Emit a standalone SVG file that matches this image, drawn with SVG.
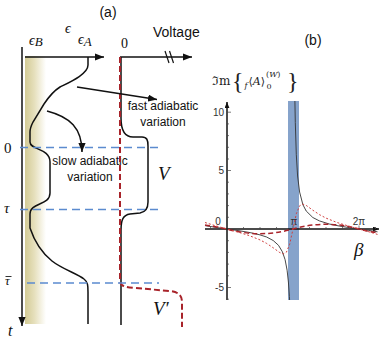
<svg xmlns="http://www.w3.org/2000/svg" width="382" height="341" viewBox="0 0 382 341">
<defs>
<style>
.sans{font-family:"Liberation Sans",Arial,sans-serif;fill:#111}
.ser{font-family:"Liberation Serif","DejaVu Serif",serif;fill:#111}
.it{font-style:italic}
.ax{stroke:#111;stroke-width:1.5;fill:none}
.blue{stroke:#5b8bcf;stroke-width:1.6;stroke-dasharray:8 5;fill:none}
.tick{stroke:#444;stroke-width:0.7}
.lab{font-family:"Liberation Sans",Arial,sans-serif;font-size:10px;fill:#333}
</style>
<marker id="ah" viewBox="0 0 10 8" refX="10" refY="4" markerWidth="9" markerHeight="7.2" markerUnits="userSpaceOnUse" orient="auto"><path d="M0,0 L10,4 L0,8 z" fill="#111"/></marker>
<marker id="ahs" viewBox="0 0 10 8" refX="10" refY="4" markerWidth="6" markerHeight="5" markerUnits="userSpaceOnUse" orient="auto"><path d="M0,0 L10,4 L0,8 z" fill="#111"/></marker>
<linearGradient id="band" x1="0" y1="0" x2="1" y2="0">
<stop offset="0" stop-color="#d3cb95"/><stop offset="0.45" stop-color="#e6e0bd"/><stop offset="1" stop-color="#ffffff"/>
</linearGradient>
</defs>
<rect width="382" height="341" fill="#fff"/>

<g id="panel-a">
<rect x="25" y="56" width="21" height="268" fill="url(#band)"/>
<text class="sans" x="108" y="17" font-size="14" text-anchor="middle">(a)</text>
<text class="ser it" x="65" y="33" font-size="14">ϵ</text>
<text class="ser it" x="29" y="45" font-size="14">ϵ<tspan font-size="13" dy="1">B</tspan></text>
<text class="ser it" x="78" y="44" font-size="14">ϵ<tspan font-size="13" dy="2">A</tspan></text>
<text class="ser" x="121" y="48" font-size="14">0</text>
<text class="sans" x="153" y="37" font-size="14">Voltage</text>
<text class="ser" x="4" y="153" font-size="15">0</text>
<text class="ser it" x="4" y="213" font-size="15">τ</text>
<text class="ser it" x="5" y="285" font-size="13">τ</text>
<line x1="5.5" y1="276.5" x2="11.5" y2="276.5" stroke="#333" stroke-width="1"/>
<text class="ser it" x="8" y="336" font-size="16">t</text>
<text class="ser it" x="158" y="180" font-size="19">V</text>
<text class="ser it" x="153" y="315" font-size="19">V′</text>
<text class="sans" x="163" y="110" font-size="12" text-anchor="middle">fast adiabatic</text>
<text class="sans" x="163" y="126" font-size="12" text-anchor="middle">variation</text>
<text class="sans" x="90" y="165" font-size="12" text-anchor="middle">slow adiabatic</text>
<text class="sans" x="90" y="181" font-size="12" text-anchor="middle">variation</text>

<g id="axes-a">
<line class="ax" x1="22" y1="47" x2="22" y2="326" marker-end="url(#ah)"/>
<line class="ax" x1="25" y1="57" x2="104" y2="57" marker-end="url(#ah)"/>
<line class="ax" x1="120" y1="57" x2="192" y2="57" marker-end="url(#ah)"/>
<line x1="165" y1="51" x2="169" y2="63" stroke="#111" stroke-width="1.2"/>
<line x1="169.5" y1="51" x2="173.5" y2="63" stroke="#111" stroke-width="1.2"/>
</g>

<g id="epsilon-curve">
<path d="M88,57 L88,65 C88,74 70,82 60,87 C52,92 48,98 44,104 L33,122 C31,126 30,128 30,132 L30,142 C30,150 50,148 50,162 L50,193 C50,206 30,202 30,214 L30,228 C34,240 42,253 52,261 C62,269 78,274 84,279 C88,282 88,286 88,292 L88,324" fill="none" stroke="#111" stroke-width="1.5"/>
</g>

<g id="voltage-curves">
<path d="M121,57 L121,118 C121,130 124,137 133,137 L142,137 C147,137 148,140 148,146 L148,202 C148,208 146,212 140,213 L130,214 C123,215 121,220 121,230 L121,325" fill="none" stroke="#111" stroke-width="1.5"/>
<path d="M120,57 L120,280 C120,286 124,287 135,288 L170,291 C178,292 182,295 182,302 L182,327" fill="none" stroke="#a8232a" stroke-width="2" stroke-dasharray="6 3"/>
</g>

<g id="time-lines">
<line class="blue" x1="20" y1="147.5" x2="161" y2="147.5"/>
<line class="blue" x1="20" y1="209.5" x2="161" y2="209.5"/>
<line class="blue" x1="27" y1="283" x2="159" y2="283"/>
</g>
</g>

<g id="connectors">
<line x1="77" y1="87" x2="157" y2="99.5" stroke="#111" stroke-width="1.5" marker-end="url(#ah)"/>
<path d="M47,111 C70,117 82,128 82,152" fill="none" stroke="#111" stroke-width="1.5" marker-end="url(#ah)"/>
</g>

<g id="panel-b">
<text class="sans" x="313" y="45" font-size="14" text-anchor="middle">(b)</text>
<g id="ylabel" font-family="'DejaVu Serif','Liberation Serif',serif" fill="#222">
<text x="212" y="85" font-size="12">ℑm</text>
<text x="232" y="89" font-size="24" font-family="'Liberation Serif',serif">{</text>
<text x="244.5" y="88" font-size="8" font-style="italic">f</text>
<text x="248.5" y="85" font-size="11">⟨<tspan font-style="italic">A</tspan>⟩</text>
<text x="266" y="77" font-size="8">(<tspan font-style="italic">W</tspan>)</text>
<text x="266.5" y="89" font-size="8">0</text>
<text x="287" y="89" font-size="24" font-family="'Liberation Serif',serif">}</text>
</g>
<rect x="288" y="101" width="11" height="199" fill="#86a3cb"/>
<g id="axes-b">
<line class="ax" x1="227" y1="300" x2="227" y2="102" stroke-width="1" marker-end="url(#ahs)"/>
<line class="ax" x1="205" y1="229" x2="379" y2="229" stroke-width="1" marker-end="url(#ahs)"/>
<path class="tick" d="M227,112.2h4 M227,170.5h4 M227,287.5h4 M227,123.9h2 M227,135.6h2 M227,147.3h2 M227,159h2 M227,182.2h2 M227,193.9h2 M227,205.6h2 M227,217.3h2 M227,240.7h2 M227,252.4h2 M227,264.1h2 M227,275.8h2 M227,299.2h2"/>
<path class="tick" d="M210.5,229v-2 M243.5,229v-2 M260,229v-2 M276.5,229v-2 M293,229v-3.5 M309.5,229v-2 M326,229v-2 M342.5,229v-2 M359,229v-3.5 M375.5,229v-2"/>
<text class="lab" x="224" y="116" text-anchor="end">10</text>
<text class="lab" x="224" y="174" text-anchor="end">5</text>
<text class="lab" x="224" y="291" text-anchor="end">-5</text>
<text class="lab" x="218" y="225" text-anchor="middle">0</text>
<text class="lab" x="294" y="225" text-anchor="middle">π</text>
<text class="lab" x="359" y="225" text-anchor="middle">2π</text>
<text class="ser it" x="354" y="256" font-size="19">β</text>
</g>
<g id="curves-b" fill="none">
<path d="M205,225.6 L216,227.4 L227,229 L240.2,230.9 L250.1,232.6 L260,234.9 L266.6,237 L273.2,240.5 L278.5,245.3 L282.4,251.8 L285.1,259.7 L287.1,270.2 L288.4,282 L289.4,296.6 L289.6,300" stroke="#333" stroke-width="0.9"/>
<path d="M294.9,101 L295.3,122.6 L296.3,154.7 L297.6,176 L299.6,192 L302.9,204.7 L306.2,211 L312.8,217.5 L319.4,220.9 L329.3,224 L339.2,226 L349.1,227.6 L359,229 L368.9,230.4 L377.5,231.8" stroke="#333" stroke-width="0.9"/>
<path d="M205,224.9 C212,226 219,227.5 227,229 Q260,238.4 293,229 T359,229 C365,230.8 371,231.9 377.5,232.6" stroke="#a8232a" stroke-width="1.5" stroke-dasharray="5 3"/>
<path d="M205,222.5 L216,225.9 L227,229 L238,232.1 L249,235.5 L260,239.9 L266.6,243.4 L273.2,247.8 L279.8,252.6 L283.1,253.9 L286.4,252.2 L289.7,244.2 L293,229 L296.3,213.8 L299.6,205.8 L302.9,204.1 L306.2,205.4 L312.8,210.2 L319.4,214.6 L326,218.1 L337,222.5 L348,225.9 L359,229 L370,232.1 L377.5,234.4" stroke="#d04040" stroke-width="1" stroke-dasharray="2 2"/>
</g>
</g>
</svg>
